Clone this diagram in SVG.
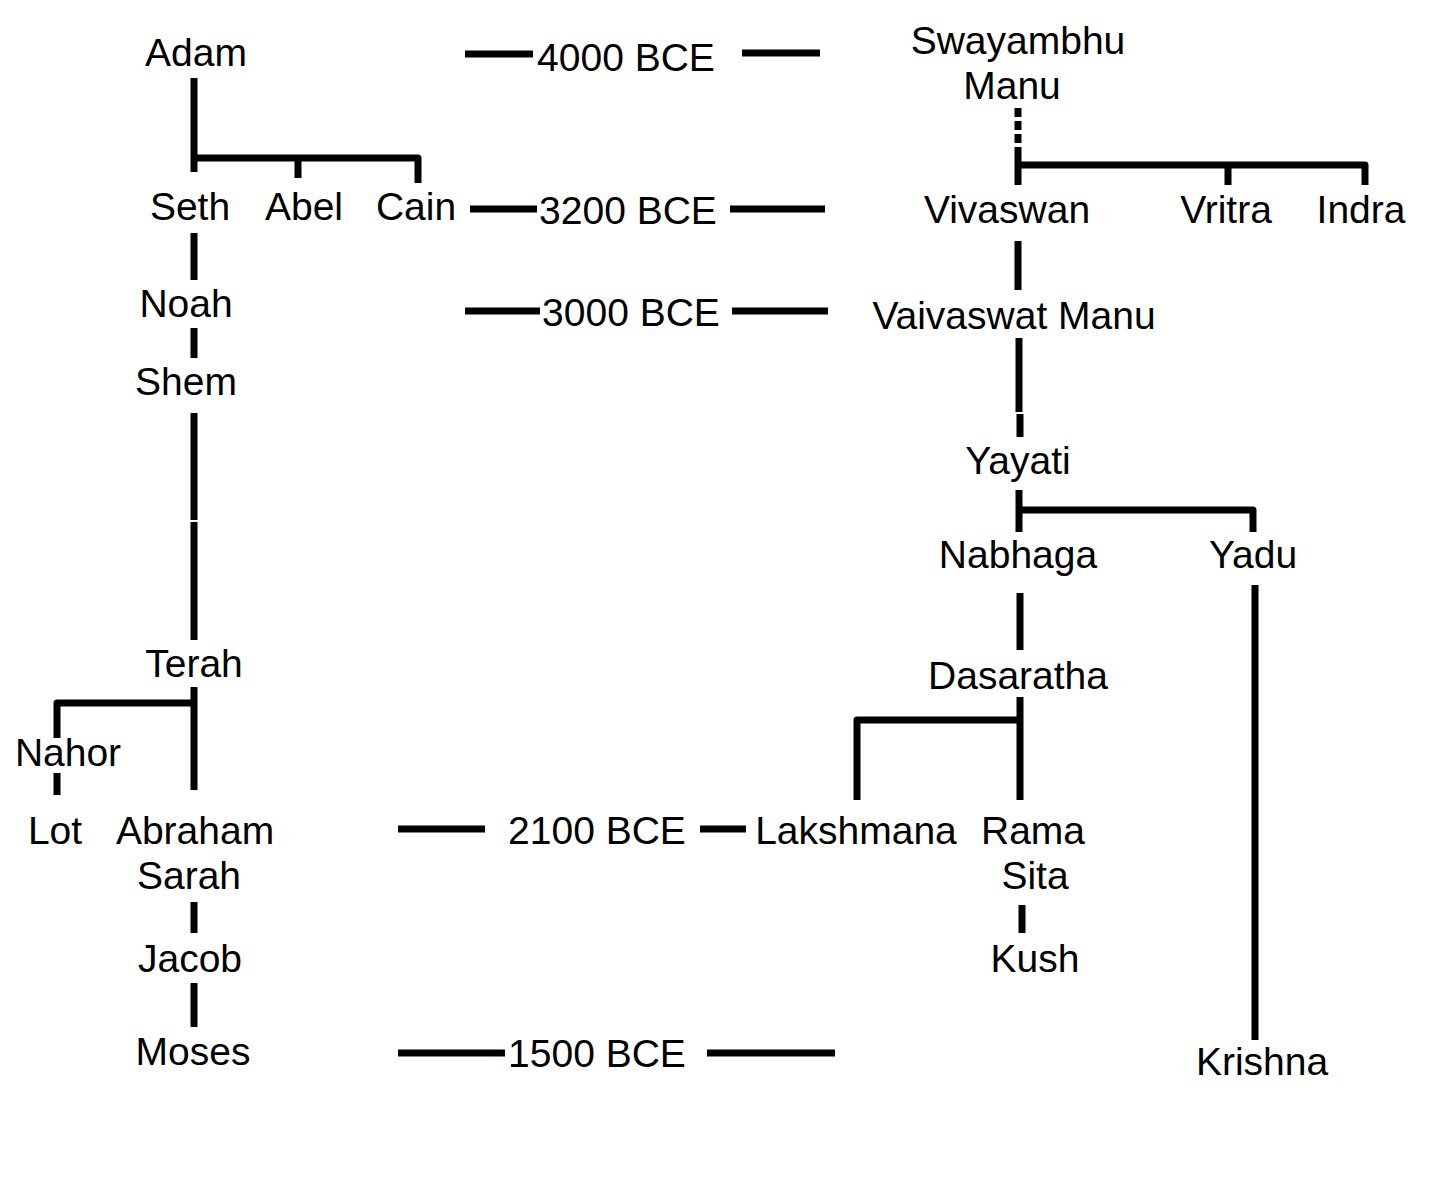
<svg xmlns="http://www.w3.org/2000/svg" width="1437" height="1177" viewBox="0 0 1437 1177">
<style>
text{font-family:"Liberation Sans",Arial,sans-serif;font-size:39px;fill:#000;text-anchor:middle}
.c{stroke:#000;stroke-width:7;fill:none;stroke-linejoin:round}
.d{stroke-dasharray:9,4}
</style>
<rect width="1437" height="1177" fill="#fff"/>
<g id="connectors">
<path class="c" d="M194 78V172M194 158H418V183M298 158V178"/>
<path class="c" d="M194 233V280"/>
<path class="c" d="M194 328V358"/>
<path class="c" d="M194 413V520M194 522V640"/>
<path class="c" d="M194 687V790M194 703H57V738"/>
<path class="c" d="M57 773V795"/>
<path class="c" d="M194 902V933"/>
<path class="c" d="M194 983V1027"/>
<path class="c d" d="M1018 108V156"/>
<path class="c" d="M1018 156V185M1018 165H1365V185M1228 165V185"/>
<path class="c" d="M1018 241V290"/>
<path class="c" d="M1019 338V412M1020 414V437"/>
<path class="c" d="M1019 490V532M1019 510H1253V532"/>
<path class="c" d="M1020 593V650"/>
<path class="c" d="M1255 585V1040"/>
<path class="c" d="M1020 697V800M1020 720H857V800"/>
<path class="c" d="M1022 905V933"/>
<path class="c" d="M465 54H533M742 53H820"/>
<path class="c" d="M470 209H537M730 209H825"/>
<path class="c" d="M465 311H540M732 311H828"/>
<path class="c" d="M398 829H485M700 829H746"/>
<path class="c" d="M398 1053H505M707 1053H835"/>
</g>
<g id="adam"><text x="196" y="66">Adam</text></g>
<g id="seth"><text x="190" y="220">Seth</text></g>
<g id="abel"><text x="304" y="220">Abel</text></g>
<g id="cain"><text x="416" y="220">Cain</text></g>
<g id="noah"><text x="186" y="317">Noah</text></g>
<g id="shem"><text x="186" y="395">Shem</text></g>
<g id="terah"><text x="194" y="677">Terah</text></g>
<g id="nahor"><text x="68" y="766">Nahor</text></g>
<g id="lot"><text x="55" y="844">Lot</text></g>
<g id="abraham"><text x="195" y="844">Abraham</text><text x="189" y="889">Sarah</text></g>
<g id="jacob"><text x="190" y="972">Jacob</text></g>
<g id="moses"><text x="193" y="1065">Moses</text></g>
<g id="d4000"><text x="626" y="71">4000 BCE</text></g>
<g id="d3200"><text x="628" y="224">3200 BCE</text></g>
<g id="d3000"><text x="631" y="326">3000 BCE</text></g>
<g id="d2100"><text x="597" y="844">2100 BCE</text></g>
<g id="d1500"><text x="597" y="1067">1500 BCE</text></g>
<g id="swayambhu"><text x="1018" y="54">Swayambhu</text><text x="1012" y="99">Manu</text></g>
<g id="vivaswan"><text x="1007" y="223">Vivaswan</text></g>
<g id="vritra"><text x="1226" y="223">Vritra</text></g>
<g id="indra"><text x="1361" y="223">Indra</text></g>
<g id="vaivaswat"><text x="1014" y="329">Vaivaswat Manu</text></g>
<g id="yayati"><text x="1018" y="474">Yayati</text></g>
<g id="nabhaga"><text x="1018" y="568">Nabhaga</text></g>
<g id="yadu"><text x="1253" y="568">Yadu</text></g>
<g id="dasaratha"><text x="1018" y="689">Dasaratha</text></g>
<g id="lakshmana"><text x="856" y="844">Lakshmana</text></g>
<g id="rama"><text x="1033" y="844">Rama</text><text x="1035" y="889">Sita</text></g>
<g id="kush"><text x="1035" y="972">Kush</text></g>
<g id="krishna"><text x="1262" y="1075">Krishna</text></g>
</svg>
